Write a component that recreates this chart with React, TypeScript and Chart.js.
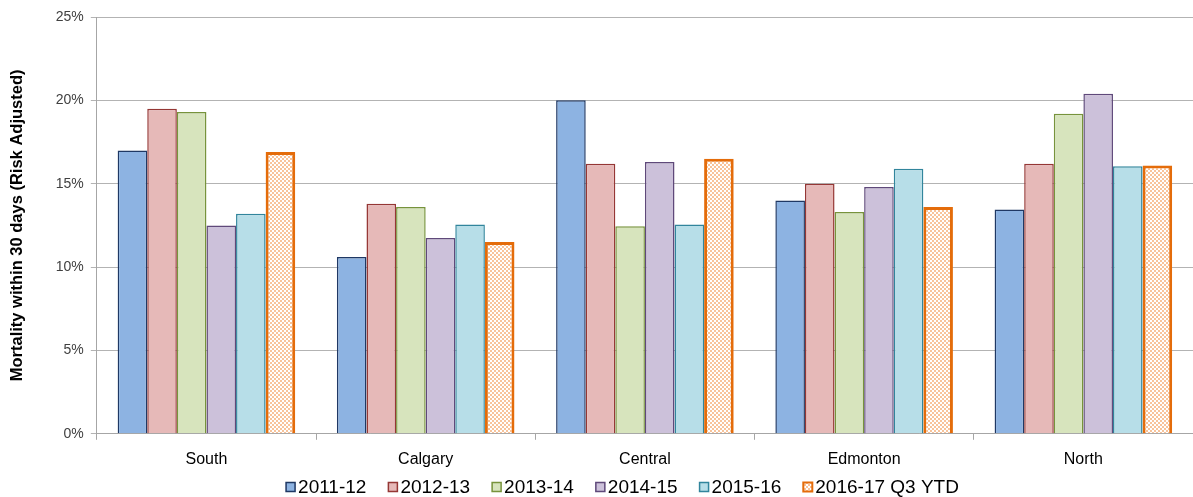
import React, { useEffect, useRef } from "react";
import { Chart, registerables } from "chart.js";

Chart.register(...registerables);

const categories = ["South", "Calgary", "Central", "Edmonton", "North"];
const seriesLabels = ["2011-12", "2012-13", "2013-14", "2014-15", "2015-16", "2016-17 Q3 YTD"];
const s2011 = [17.0, 10.6, 20.0, 14.0, 13.45];
const s2012 = [19.5, 13.8, 16.2, 15.0, 16.2];
const s2013 = [19.3, 13.6, 12.45, 13.3, 19.2];
const s2014 = [12.5, 11.75, 16.3, 14.8, 20.4];
const s2015 = [13.2, 12.55, 12.55, 15.9, 16.05];
const s2016 = [16.9, 11.5, 16.5, 13.6, 16.1];
const yTicks = [0, 5, 10, 15, 20, 25];

const fills = ["#8db3e2", "#e6b9b8", "#d7e4bd", "#ccc1da", "#b7dee8"];
const borders = ["#1f3864", "#953735", "#77933c", "#5f497a", "#31859c"];
const FONT = "'Liberation Sans', Arial, sans-serif";

function makePattern(): CanvasPattern | string {
  const c = document.createElement("canvas");
  c.width = 4;
  c.height = 4;
  const ctx = c.getContext("2d");
  if (!ctx) return "#fbd4b4";
  ctx.fillStyle = "#ffffff";
  ctx.fillRect(0, 0, 4, 4);
  ctx.fillStyle = "#f8c39a";
  ctx.fillRect(0, 0, 2, 2);
  ctx.fillRect(2, 2, 2, 2);
  const p = ctx.createPattern(c, "repeat");
  return p || "#fbd4b4";
}

const legendPlugin = {
  id: "customLegend",
  afterDraw(chart: any) {
    const ctx = chart.ctx as CanvasRenderingContext2D;
    const ds = chart.data.datasets;
    ctx.save();
    ctx.font = `19px ${FONT}`;
    ctx.textBaseline = "middle";
    ctx.textAlign = "left";
    const box = 9;
    const gapText = 3;
    const gapItem = 22;
    const widths = ds.map((d: any) => box + gapText + ctx.measureText(d.label).width);
    const total = widths.reduce((a: number, b: number) => a + b, 0) + gapItem * (ds.length - 1);
    let x = chart.width / 2 + 26 - total / 2;
    const y = chart.height - 10;
    ds.forEach((d: any, i: number) => {
      ctx.fillStyle = d.backgroundColor;
      ctx.fillRect(x, y - box / 2, box, box);
      ctx.strokeStyle = d.borderColor;
      ctx.lineWidth = i === ds.length - 1 ? 2 : 1.5;
      ctx.strokeRect(x, y - box / 2, box, box);
      ctx.fillStyle = "#000";
      ctx.fillText(d.label, x + box + gapText, y + 1);
      x += widths[i] + gapItem;
    });
    ctx.restore();
  },
};

export default function App() {
  const ref = useRef<HTMLCanvasElement>(null);
  useEffect(() => {
    document.body.style.margin = "0";
    if (!ref.current) return;
    const values = [s2011, s2012, s2013, s2014, s2015];
    const datasets: any[] = values.map((v, i) => ({
      label: seriesLabels[i],
      data: v,
      backgroundColor: fills[i],
      borderColor: borders[i],
      borderWidth: 1.5,
    }));
    datasets.push({
      label: seriesLabels[5],
      data: s2016,
      backgroundColor: makePattern(),
      borderColor: "#e46c0a",
      borderWidth: 3,
    });
    const chart = new Chart(ref.current, {
      type: "bar",
      data: { labels: categories, datasets },
      plugins: [legendPlugin],
      options: {
        animation: false,
        responsive: false,
        maintainAspectRatio: false,
        layout: { padding: { top: 17, right: 0, left: 4, bottom: 18 } },
        datasets: { bar: { categoryPercentage: 0.81, barPercentage: 1.0 } },
        plugins: {
          legend: { display: false },
          tooltip: { enabled: false },
        },
        scales: {
          x: {
            grid: {
              display: true,
              drawOnChartArea: false,
              drawTicks: true,
              tickLength: 6,
              color: "#a6a6a6",
              offset: true,
            },
            border: { color: "#a6a6a6" },
            ticks: { color: "#000", font: { family: FONT, size: 16 }, padding: 10 },
          },
          y: {
            min: 0,
            max: 25,
            afterBuildTicks: (axis: any) => {
              axis.ticks = yTicks.map((v) => ({ value: v }));
            },
            grid: { color: "#b3b3b3", drawTicks: true, tickLength: 6 },
            border: { color: "#a6a6a6" },
            ticks: {
              color: "#404040",
              font: { family: FONT, size: 14 },
              callback: (v: any) => v + "%",
              padding: 7,
            },
            title: {
              display: true,
              text: "Mortality within 30 days (Risk Adjusted)",
              color: "#000",
              font: { family: FONT, size: 16.5, weight: "bold" },
              padding: { top: 4, bottom: 21 },
            },
          },
        },
      },
    });
    return () => chart.destroy();
  }, []);
  return (
    <div style={{ width: 1193, height: 497 }}>
      <canvas ref={ref} width={1193} height={497} />
    </div>
  );
}
